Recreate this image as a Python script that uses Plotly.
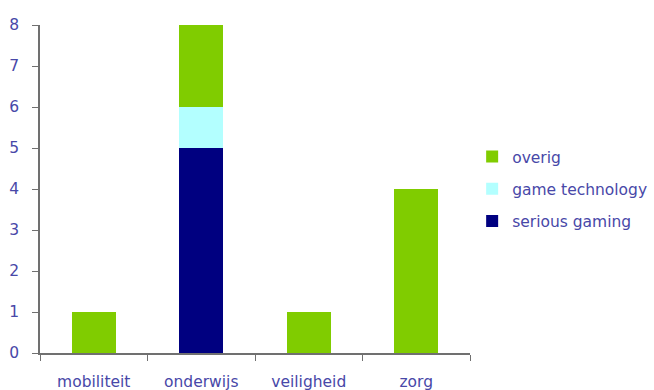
import plotly.graph_objects as go

categories = ["mobiliteit", "onderwijs", "veiligheid", "zorg"]
serious_gaming = [0, 5, 0, 0]
game_technology = [0, 1, 0, 0]
overig = [1, 2, 1, 4]
y_ticks = [0, 1, 2, 3, 4, 5, 6, 7, 8]

font_color = "#4848a8"
font_family = "DejaVu Sans, Verdana, sans-serif"
fsize = 15.5

fig = go.Figure()
fig.add_trace(go.Bar(x=categories, y=serious_gaming, name="serious gaming", legendgroup="a",
                     legendrank=3, marker=dict(color="#000080", line=dict(width=0))))
fig.add_trace(go.Bar(x=categories, y=game_technology, name="game technology", legendgroup="b",
                     legendrank=2, marker=dict(color="#b3ffff", line=dict(width=0))))
fig.add_trace(go.Bar(x=categories, y=overig, name="overig", legendgroup="c",
                     legendrank=1, marker=dict(color="#80cc00", line=dict(width=0))))

fig.update_layout(
    barmode="stack",
    bargap=0.59,
    width=654, height=390,
    margin=dict(l=40, r=184, t=25, b=37, autoexpand=False),
    plot_bgcolor="white", paper_bgcolor="white",
    font=dict(family=font_family, size=fsize, color=font_color),
    legend=dict(x=1.005, xanchor="left", y=0.5, yanchor="middle",
                traceorder="grouped", font=dict(size=fsize, color=font_color),
                itemwidth=30, tracegroupgap=9),
    showlegend=True,
)
fig.update_xaxes(showline=True, linecolor="#707070", linewidth=1.5,
                 ticks="outside", tickson="boundaries", ticklen=6, tickcolor="#707070",
                 ticklabelstandoff=14, automargin=False,
                 showgrid=False, tickfont=dict(size=fsize, color=font_color))
fig.update_yaxes(range=[0, 8], tickvals=y_ticks, showline=True, linecolor="#707070",
                 linewidth=1.5, ticks="outside", ticklen=6, tickcolor="#707070",
                 ticklabelstandoff=10, automargin=False,
                 showgrid=False, zeroline=False, tickfont=dict(size=fsize, color=font_color))

fig.write_html("out.html")
